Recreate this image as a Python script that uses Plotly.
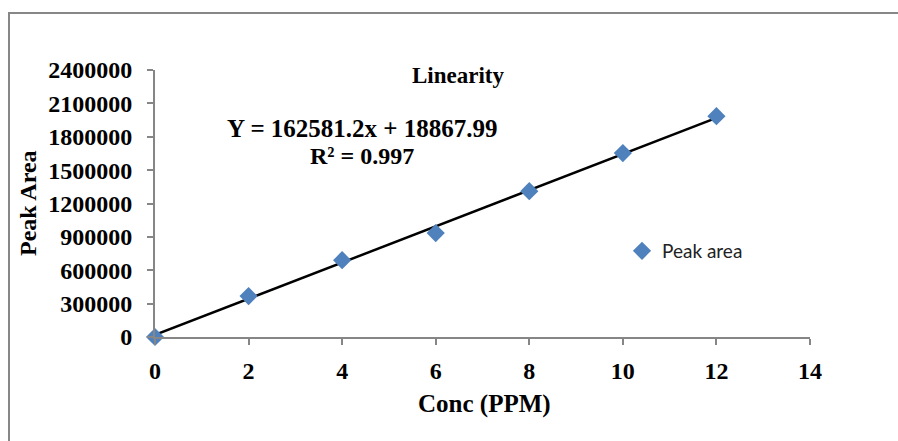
import plotly.graph_objects as go

conc = [0, 2, 4, 6, 8, 10, 12]
peak_area = [0, 368000, 691000, 934000, 1311000, 1653000, 1985000]
slope = 162581.2
intercept = 18867.99
x_ticks = [0, 2, 4, 6, 8, 10, 12, 14]
y_ticks = [0, 300000, 600000, 900000, 1200000, 1500000, 1800000, 2100000, 2400000]

W, H = 898, 441
L, R, T, B = 155, 88, 70, 104
pw, ph = W - L - R, H - T - B

fit_x = [min(conc), max(conc)]
fit_y = [slope * v + intercept for v in fit_x]

fig = go.Figure()
fig.add_trace(go.Scatter(x=fit_x, y=fit_y, mode="lines",
                         line=dict(color="black", width=2.5), showlegend=False,
                         cliponaxis=False))
fig.add_trace(go.Scatter(x=conc, y=peak_area, mode="markers", name="Peak area",
                         marker=dict(symbol="diamond", size=14, color="#4F81BD"),
                         cliponaxis=False))

serif = "Liberation Serif"
axis_col = "#868686"
fig.update_layout(
    width=W, height=H,
    margin=dict(l=L, r=R, t=T, b=B, autoexpand=False),
    paper_bgcolor="white", plot_bgcolor="white",
    showlegend=True,
    legend=dict(x=(622 - L) / pw, y=(337 - 251) / ph, xanchor="left", yanchor="middle",
                font=dict(family="Lato", size=19, color="#222"),
                bgcolor="rgba(0,0,0,0)", itemwidth=30),
    xaxis=dict(range=[0, 14], tickvals=x_ticks, ticktext=[str(v) for v in x_ticks],
               showgrid=False, zeroline=False, showline=True, linecolor=axis_col, linewidth=2,
               ticks="outside", tickcolor=axis_col, ticklen=6, tickwidth=2,
               tickfont=dict(family=serif, size=24, color="black", weight="bold"),
               ticklabelstandoff=5),
    yaxis=dict(range=[0, 2400000], tickvals=y_ticks, ticktext=[str(v) for v in y_ticks],
               showgrid=False, zeroline=False, showline=True, linecolor=axis_col, linewidth=2,
               ticks="outside", tickcolor=axis_col, ticklen=6, tickwidth=2,
               tickfont=dict(family=serif, size=24, color="black", weight="bold"),
               ticklabelstandoff=10),
)

def ann(text, cx, cy, size, angle=0):
    fig.add_annotation(text=text, x=(cx - L) / pw, y=(H - B - cy) / ph, xref="paper", yref="paper",
                       showarrow=False, xanchor="center", yanchor="middle", textangle=angle,
                       font=dict(family=serif, size=size, color="black", weight="bold"))

ann("Linearity", 458, 75, 23)
ann("Y = 162581.2x + 18867.99", 362, 128, 25)
ann("R² = 0.997", 362, 156, 24)
ann("Conc (PPM)", 485, 404, 25)
ann("Peak Area", 28, 203, 24, angle=-90)

fig.add_shape(type="rect", xref="paper", yref="paper",
              x0=(9 - L) / pw, x1=(W + 20 - L) / pw,
              y0=(H - B - (H + 20)) / ph, y1=(H - B - 13) / ph,
              line=dict(color="#878787", width=2), fillcolor="rgba(0,0,0,0)", layer="below")

fig.write_html("out.html")
